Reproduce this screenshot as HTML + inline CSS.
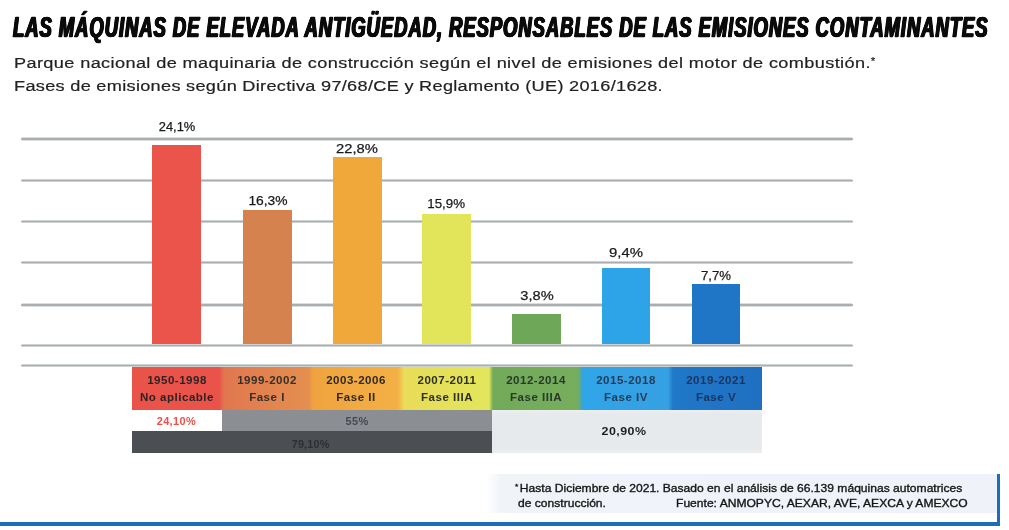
<!DOCTYPE html>
<html lang="es">
<head>
<meta charset="utf-8">
<title>Las máquinas de elevada antigüedad</title>
<style>
html,body{margin:0;padding:0;background:#fff;}
body{width:1009px;height:530px;position:relative;overflow:hidden;font-family:"Liberation Sans",sans-serif;color:#1a1a1a;}
.a{position:absolute;margin:0;white-space:nowrap;}
.o{transform-origin:0 0;}
.c{transform-origin:50% 50%;text-align:center;}
.grid{position:absolute;left:21px;width:832px;height:3.6px;background:linear-gradient(180deg,rgba(169,174,177,0) 0,#a9aeb1 30%,#a9aeb1 70%,rgba(169,174,177,0) 100%);border-radius:2px;}
.bar{position:absolute;}
.val{position:absolute;width:80px;text-align:center;font-size:13.3px;line-height:14px;color:#1a1a1a;-webkit-text-stroke:0.25px #1a1a1a;}
.cell{position:absolute;text-align:center;font-size:10.5px;line-height:17px;font-weight:bold;white-space:nowrap;transform:scaleX(1.1);letter-spacing:0.45px;}
</style>
</head>
<body>
<h1 id="t" class="a o" style="left:13.2px;top:10.45px;font-size:29px;line-height:34px;font-weight:bold;font-style:italic;transform:scaleX(0.6372);color:#0b0b0b;-webkit-text-stroke:0.6px #0b0b0b;letter-spacing:1.45px;text-shadow:0.6px 0 0 #0b0b0b,-0.6px 0 0 #0b0b0b,1.15px 0 0 #0b0b0b,-1.15px 0 0 #0b0b0b;">LAS MÁQUINAS DE ELEVADA ANTIGÜEDAD, RESPONSABLES DE LAS EMISIONES CONTAMINANTES</h1>
<p id="s1" class="a o" style="left:14.0px;top:51.93px;font-size:15.5px;line-height:22px;transform:scaleX(1.17);letter-spacing:0.325px;color:#222;-webkit-text-stroke:0.2px #222;">Parque nacional de maquinaria de construcción según el nivel de emisiones del motor de combustión.<span style="font-size:10px;position:relative;top:-3px">*</span></p>
<p id="s2" class="a o" style="left:14.0px;top:74.53px;font-size:15.5px;line-height:22px;transform:scaleX(1.17);letter-spacing:0.26px;color:#222;-webkit-text-stroke:0.2px #222;">Fases de emisiones según Directiva 97/68/CE y Reglamento (UE) 2016/1628.</p>
<div class="grid" style="top:137.0px"></div>
<div class="grid" style="top:178.6px"></div>
<div class="grid" style="top:219.5px"></div>
<div class="grid" style="top:260.9px"></div>
<div class="grid" style="top:303.4px"></div>
<div class="grid" style="top:343.7px"></div>
<div class="grid" style="top:363.5px"></div>
<div class="bar" style="left:152px;width:49.0px;top:145.2px;height:198.4px;background:#ea544b"></div>
<div class="bar" style="left:242.7px;width:48.9px;top:209.9px;height:133.7px;background:#d6824f"></div>
<div class="bar" style="left:332.9px;width:49.0px;top:156.5px;height:187.1px;background:#f0a83b"></div>
<div class="bar" style="left:421.5px;width:49.5px;top:213.8px;height:129.8px;background:#e2e55a"></div>
<div class="bar" style="left:511.9px;width:49.0px;top:313.8px;height:29.8px;background:#6ea757"></div>
<div class="bar" style="left:601.6px;width:48.7px;top:267.9px;height:75.7px;background:#2ea4e8"></div>
<div class="bar" style="left:691.8px;width:48.2px;top:283.6px;height:60.0px;background:#1f75c6"></div>
<div class="val" id="v0" style="left:137.2px;top:119.59px;transform:scaleX(0.97)">24,1%</div>
<div class="val" id="v1" style="left:228.2px;top:193.89px;transform:scaleX(1.04)">16,3%</div>
<div class="val" id="v2" style="left:316.6px;top:142.09px;transform:scaleX(1.11)">22,8%</div>
<div class="val" id="v3" style="left:406.2px;top:197.49px;transform:scaleX(1.0)">15,9%</div>
<div class="val" id="v4" style="left:496.5px;top:288.79px;transform:scaleX(1.1)">3,8%</div>
<div class="val" id="v5" style="left:586.0px;top:246.19px;transform:scaleX(1.12)">9,4%</div>
<div class="val" id="v6" style="left:676.2px;top:269.19px;transform:scaleX(0.99)">7,7%</div>
<div class="a" style="left:131.8px;top:367.4px;width:629.8px;height:42.6px;background:linear-gradient(90deg,#e9534a 0px,#e9534a 87px,#e0774e 92px,#e48f4f 177px,#f0a33e 181px,#f3b045 266px,#e8dc58 272px,#e2e65b 357px,#72aa5a 361px,#76ae5e 446px,#2fa5e8 451px,#36a0e2 536px,#1f78c9 541px,#1f70c1 630px);"></div>
<div class="cell" id="c0" style="left:132.0px;width:90px;top:371.86px;color:#2a2424">1950-1998<br>No aplicable</div>
<div class="cell" id="c1" style="left:221.5px;width:90px;top:371.86px;color:#33302c">1999-2002<br>Fase I</div>
<div class="cell" id="c2" style="left:311.2px;width:90px;top:371.86px;color:#2e2a22">2003-2006<br>Fase II</div>
<div class="cell" id="c3" style="left:401.5px;width:90px;top:371.86px;color:#2e2f26">2007-2011<br>Fase IIIA</div>
<div class="cell" id="c4" style="left:491.0px;width:90px;top:371.86px;color:#26392a">2012-2014<br>Fase IIIA</div>
<div class="cell" id="c5" style="left:580.5px;width:90px;top:371.86px;color:#253c58">2015-2018<br>Fase IV</div>
<div class="cell" id="c6" style="left:671.2px;width:90px;top:371.86px;color:#1b3560">2019-2021<br>Fase V</div>
<div class="a" style="left:222px;top:410px;width:269.8px;height:21.2px;background:#8b8e93;"></div>
<div class="a" style="left:132px;top:431px;width:359.8px;height:22.4px;background:#4b4f54;"></div>
<div class="a" style="left:492px;top:410px;width:269.8px;height:42.6px;background:linear-gradient(180deg,#eceef0 0,#e7eaec 4px,#e7eaec 38px,#eceef0 100%);"></div>
<div class="a c" id="r1" style="left:126.4px;width:100px;top:413.29px;font-size:11px;line-height:16px;font-weight:bold;color:#e8524a;transform:scaleX(1.0);letter-spacing:0.35px">24,10%</div>
<div class="a c" id="r2" style="left:306.6px;width:100px;top:412.96px;font-size:10.5px;line-height:16px;font-weight:bold;color:#464a50;transform:scaleX(1.05);letter-spacing:0.3px">55%</div>
<div class="a c" id="r3" style="left:260.6px;width:100px;top:435.56px;font-size:10.8px;line-height:16px;font-weight:bold;color:#2b2f34;transform:scaleX(1.0);letter-spacing:0.2px">79,10%</div>
<div class="a c" id="r4" style="left:574.2px;width:100px;top:423.38px;font-size:11.3px;line-height:16px;font-weight:bold;color:#1d1d1f;transform:scaleX(1.1);letter-spacing:0.4px">20,90%</div>
<div class="a" style="left:486px;top:474px;width:510.5px;height:38.8px;background:linear-gradient(90deg,rgba(240,243,248,0) 0,#f0f3f8 15px,#eff2f8 100%);"></div>
<div class="a" style="left:996.5px;top:473.5px;width:3px;height:52px;background:#1d6dbd;"></div>
<div class="a" style="left:0;top:522.4px;width:999.5px;height:3.2px;background:#1d6dbd;"></div>
<p class="a o" id="f1" style="left:514.5px;top:481.42px;font-size:11.5px;line-height:15px;color:#151515;-webkit-text-stroke:0.35px #151515;transform:scaleX(1.05);"><span style="font-size:8px;position:relative;top:-3px;margin-right:1.5px">*</span>Hasta Diciembre de 2021. Basado en el análisis de 66.139 máquinas automatrices</p>
<p class="a o" id="f2" style="left:517.8px;top:496.32px;font-size:11.5px;line-height:15px;color:#151515;-webkit-text-stroke:0.35px #151515;transform:scaleX(1.05);">de construcción.</p>
<p class="a o" id="f3" style="left:676px;top:496.32px;font-size:11.5px;line-height:15px;color:#151515;-webkit-text-stroke:0.35px #151515;transform:scaleX(1.05);">Fuente: ANMOPYC, AEXAR, AVE, AEXCA y AMEXCO</p>
</body>
</html>
